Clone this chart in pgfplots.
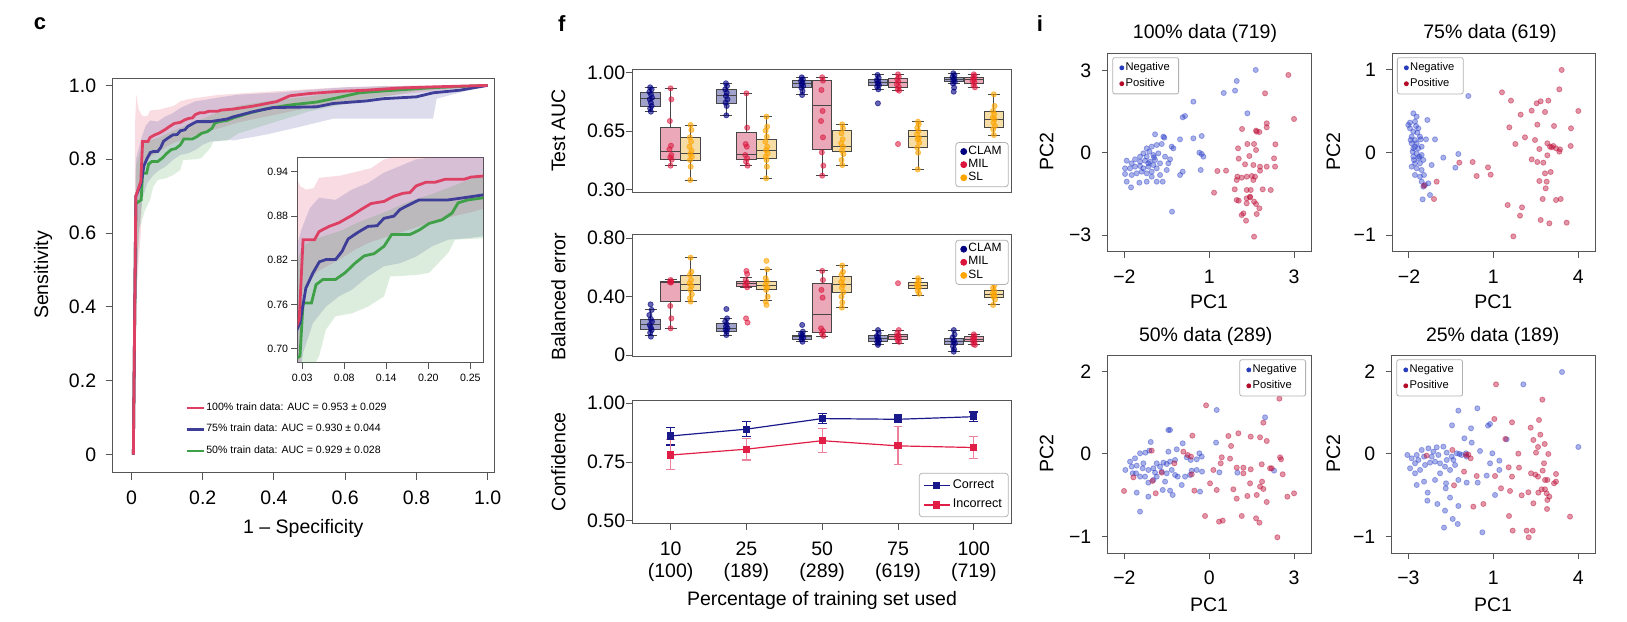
\documentclass[border=0pt]{standalone}
\usepackage{fontspec}
\setmainfont{Liberation Sans}
\usepackage{pgfplots}
\usepackage{pgfplotstable}
\pgfplotsset{compat=1.18}
\usepgfplotslibrary{statistics}

\definecolor{rocred}{RGB}{222,64,100}
\definecolor{rocblue}{RGB}{62,62,152}
\definecolor{rocgreen}{RGB}{64,160,72}
\definecolor{clamc}{RGB}{0,0,128}
\definecolor{milc}{RGB}{220,20,60}
\definecolor{slc}{RGB}{255,165,0}
\definecolor{clamfill}{RGB}{160,162,204}
\definecolor{milfill}{RGB}{234,168,184}
\definecolor{slfill}{RGB}{246,220,165}
\definecolor{boxedge}{RGB}{70,70,70}
\definecolor{negc}{RGB}{40,60,200}
\definecolor{posc}{RGB}{190,20,60}
\definecolor{negdark}{RGB}{40,60,190}
\definecolor{posdark}{RGB}{180,10,40}
\definecolor{framec}{RGB}{85,85,85}
\definecolor{corrc}{RGB}{25,25,140}
\definecolor{incc}{RGB}{225,30,70}
\definecolor{incbar}{RGB}{236,130,155}

\newcommand{\fmain}{\fontsize{9.75}{11}\selectfont}
\newcommand{\fsmall}{\fontsize{5.3}{6}\selectfont}
\newcommand{\flegf}{\fontsize{6}{7}\selectfont}
\newcommand{\flegs}{\fontsize{5.6}{6.5}\selectfont}

\pgfplotsset{
  rbase/.style={scale only axis, anchor=south west,
    axis line style={framec, line width=0.5pt},
    tick style={framec, line width=0.5pt},
    tick align=outside, xtick pos=left, ytick pos=left,
    major tick length=3.3pt,
    tick label style={font=\fmain, inner sep=0pt},
    /pgf/number format/assume math mode=true},
  cbx/.style={draw=boxedge, fill=clamfill, line width=0.5pt},
  mbx/.style={draw=boxedge, fill=milfill, line width=0.5pt},
  sbx/.style={draw=boxedge, fill=slfill, line width=0.5pt},
  cpt/.style={only marks, mark=*, mark size=1.3pt, clamc, opacity=0.6},
  mpt/.style={only marks, mark=*, mark size=1.3pt, milc, opacity=0.55},
  spt/.style={only marks, mark=*, mark size=1.3pt, slc, opacity=0.6},
  npt/.style={only marks, mark=*, mark size=1.3pt, negc, opacity=0.4},
  ppt/.style={only marks, mark=*, mark size=1.3pt, posc, opacity=0.45},
  flegend/.style={legend style={draw=gray!60, rounded corners=1.5pt, fill=white, font=\flegf,
      inner xsep=2.5pt, inner ysep=1.2pt, row sep=0pt, nodes={inner sep=0.45pt, inner xsep=0.8pt}}, legend cell align=left},
  slegend/.style={legend style={draw=gray!60, rounded corners=1pt, fill=white, font=\flegs,
      inner xsep=3.5pt, inner ysep=1.4pt, row sep=0.6pt, nodes={inner sep=0.9pt}}, legend cell align=left},
}

\newcommand{\bx}[7]{\addplot[#1, forget plot, boxplot prepared={draw position=#2, lower whisker=#3, lower quartile=#4, median=#5, upper quartile=#6, upper whisker=#7}] coordinates {};}

% ---------------- ROC data ----------------
\pgfplotstableread{
x y
0.005 0
0.012 0.70
0.026 0.74
0.031 0.848
0.046 0.848
0.052 0.859
0.065 0.866
0.078 0.871
0.095 0.881
0.107 0.889
0.120 0.897
0.137 0.900
0.150 0.907
0.162 0.911
0.171 0.912
0.179 0.921
0.192 0.926
0.204 0.926
0.217 0.930
0.242 0.930
0.251 0.933
0.286 0.936
0.342 0.944
0.379 0.951
0.407 0.956
0.445 0.972
0.500 0.978
0.585 0.984
0.660 0.987
0.754 0.993
0.847 0.996
1.000 1.000
}\redmean
\pgfplotstableread{
x y
0.005 0
0.012 0.70
0.027 0.735
0.0346 0.782
0.044 0.803
0.0524 0.818
0.061 0.821
0.0735 0.821
0.082 0.832
0.090 0.849
0.103 0.858
0.116 0.866
0.128 0.867
0.137 0.877
0.150 0.880
0.158 0.889
0.171 0.896
0.183 0.902
0.221 0.902
0.242 0.905
0.268 0.909
0.286 0.915
0.342 0.929
0.398 0.940
0.520 0.942
0.566 0.951
0.660 0.958
0.707 0.964
0.800 0.969
0.847 0.980
0.922 0.987
1.000 1.000
}\bluemean
\pgfplotstableread{
x y
0.005 0
0.012 0.68
0.027 0.69
0.031 0.762
0.042 0.762
0.048 0.787
0.057 0.794
0.0735 0.794
0.086 0.803
0.099 0.816
0.111 0.826
0.124 0.829
0.137 0.839
0.147 0.855
0.171 0.855
0.183 0.861
0.196 0.870
0.213 0.875
0.226 0.884
0.234 0.898
0.247 0.902
0.268 0.905
0.286 0.912
0.330 0.925
0.379 0.937
0.445 0.947
0.520 0.955
0.566 0.964
0.640 0.980
0.707 0.985
0.847 0.994
1.000 1.000
}\greenmean
\pgfplotstableread{
x y
0.005 0
0.010 0.90
0.013 0.975
0.020 0.935
0.028 0.920
0.035 0.916
0.045 0.918
0.052 0.932
0.080 0.935
0.100 0.940
0.120 0.945
0.137 0.957
0.160 0.963
0.240 0.974
0.380 0.983
0.570 0.994
0.750 0.999
1.000 1.000
0.900 0.990
0.800 0.980
0.700 0.970
0.600 0.955
0.500 0.940
0.400 0.920
0.300 0.900
0.250 0.885
0.200 0.873
0.180 0.865
0.150 0.855
0.120 0.845
0.100 0.835
0.080 0.822
0.050 0.805
0.031 0.780
0.026 0.600
0.015 0.450
0.010 0.200
0.005 0
}\redband
\pgfplotstableread{
x y
0.005 0
0.012 0.80
0.029 0.862
0.040 0.891
0.052 0.905
0.0735 0.902
0.095 0.916
0.116 0.925
0.137 0.939
0.158 0.948
0.179 0.957
0.200 0.960
0.250 0.968
0.300 0.975
0.400 0.980
0.500 0.988
0.600 0.995
0.700 0.998
1.000 1.000
0.940 0.985
0.857 0.964
0.847 0.910
0.660 0.910
0.566 0.910
0.473 0.888
0.379 0.867
0.286 0.851
0.268 0.853
0.247 0.850
0.221 0.848
0.200 0.839
0.179 0.825
0.158 0.816
0.137 0.812
0.116 0.798
0.095 0.780
0.078 0.771
0.061 0.757
0.044 0.735
0.031 0.694
0.020 0.600
0.012 0.400
0.005 0
}\blueband
\pgfplotstableread{
x y
0.005 0
0.012 0.78
0.030 0.840
0.050 0.850
0.080 0.860
0.100 0.870
0.137 0.885
0.170 0.900
0.200 0.910
0.250 0.930
0.300 0.945
0.400 0.960
0.500 0.970
0.600 0.985
0.700 0.995
1.000 1.000
0.800 0.985
0.600 0.950
0.500 0.930
0.400 0.900
0.300 0.870
0.268 0.850
0.230 0.848
0.221 0.830
0.196 0.803
0.179 0.800
0.145 0.798
0.137 0.771
0.116 0.757
0.095 0.748
0.0735 0.744
0.061 0.726
0.052 0.690
0.037 0.660
0.023 0.615
0.015 0.500
0.008 0.200
0.005 0
}\greenband

\begin{document}
\begin{tikzpicture}[x=0.5pt,y=0.5pt]
\path[use as bounding box] (0,0) rectangle (1627,621);

% ================= panel c =================
\begin{axis}[rbase, at={(56.35pt,74.1pt)}, width=191pt, height=197.2pt,
  xmin=-0.053, xmax=1.02, ymin=-0.049, ymax=1.019,
  xtick={0,0.2,0.4,0.6,0.8,1}, xticklabels={0,0.2,0.4,0.6,0.8,1.0},
  ytick={0,0.2,0.4,0.6,0.8,1}, yticklabels={0,0.2,0.4,0.6,0.8,1.0},
  major tick length=3.5pt,
  xticklabel style={yshift=-5.5pt}, yticklabel style={xshift=-4.6pt},
  legend style={at={(0.189,0.182)}, anchor=north west, draw=none, fill=none, font=\fsmall,
    row sep=4.2pt, inner sep=0pt, nodes={inner sep=0.6pt}},
  legend cell align=left,
  legend image code/.code={\draw[#1] (0pt,0pt) -- (8.5pt,0pt);},
]
\addplot[fill=rocred, fill opacity=0.18, draw=none, forget plot] table {\redband};
\addplot[fill=rocblue, fill opacity=0.18, draw=none, forget plot] table {\blueband};
\addplot[fill=rocgreen, fill opacity=0.18, draw=none, forget plot] table {\greenband};
\addplot[rocgreen, line width=1.4pt, forget plot] table {\greenmean};
\addplot[rocblue, line width=1.4pt, forget plot] table {\bluemean};
\addplot[rocred, line width=1.4pt, forget plot] table {\redmean};
\addlegendimage{rocred, line width=1.4pt}
\addlegendentry{100\% train data: AUC = 0.953 ± 0.029}
\addlegendimage{rocblue, line width=1.4pt}
\addlegendentry{75\% train data: AUC = 0.930 ± 0.044}
\addlegendimage{rocgreen, line width=1.4pt}
\addlegendentry{50\% train data: AUC = 0.929 ± 0.028}
\end{axis}

\begin{axis}[rbase, at={(148.85pt,129.15pt)}, width=92.8pt, height=102.75pt,
  xmin=0.024, xmax=0.267, ymin=0.681, ymax=0.96,
  xtick={0.03,0.085,0.14,0.195,0.25}, xticklabels={0.03,0.08,0.14,0.20,0.25},
  ytick={0.70,0.76,0.82,0.88,0.94}, yticklabels={0.70,0.76,0.82,0.88,0.94},
  tick label style={font=\fsmall},
  xticklabel style={yshift=-2.1pt}, yticklabel style={xshift=-1.3pt},
  axis background/.style={fill=white},
]
\addplot[fill=rocred, fill opacity=0.18, draw=none] table {\redband};
\addplot[fill=rocblue, fill opacity=0.18, draw=none] table {\blueband};
\addplot[fill=rocgreen, fill opacity=0.18, draw=none] table {\greenband};
\addplot[rocgreen, line width=1.4pt] table {\greenmean};
\addplot[rocblue, line width=1.4pt] table {\bluemean};
\addplot[rocred, line width=1.4pt] table {\redmean};
\end{axis}

% ================= panel f: Test AUC =================
\begin{axis}[rbase, flegend, at={(316.35pt,214.15pt)}, width=189.5pt, height=61.35pt,
  xmin=-0.5, xmax=4.5, ymin=0.28, ymax=1.016, xtick=\empty,
  ytick={0.30,0.65,1.00}, yticklabels={0.30,0.65,1.00},
  yticklabel style={xshift=-0.3pt},
  boxplot/draw direction=y,
  boxplot/box extend=0.255, boxplot/whisker extend=0.16,
  legend style={at={(0.992,0.045)}, anchor=south east},
]
\bx{cbx}{-0.264}{0.766}{0.796}{0.842}{0.882}{0.912}
\bx{mbx}{0}{0.442}{0.478}{0.530}{0.674}{0.906}
\bx{sbx}{0.264}{0.356}{0.474}{0.516}{0.614}{0.686}
\bx{cbx}{0.736}{0.744}{0.816}{0.860}{0.900}{0.936}
\bx{mbx}{1}{0.442}{0.480}{0.510}{0.642}{0.876}
\bx{sbx}{1.264}{0.366}{0.488}{0.532}{0.600}{0.736}
\bx{cbx}{1.736}{0.866}{0.912}{0.932}{0.950}{0.972}
\bx{mbx}{2}{0.382}{0.540}{0.804}{0.950}{0.972}
\bx{sbx}{2.264}{0.446}{0.526}{0.560}{0.654}{0.690}
\bx{cbx}{2.736}{0.900}{0.920}{0.942}{0.956}{0.986}
\bx{mbx}{3}{0.892}{0.910}{0.940}{0.964}{0.990}
\bx{sbx}{3.264}{0.420}{0.552}{0.620}{0.656}{0.706}
\bx{cbx}{3.736}{0.936}{0.946}{0.960}{0.972}{0.996}
\bx{mbx}{4}{0.912}{0.936}{0.956}{0.968}{0.990}
\bx{sbx}{4.264}{0.626}{0.670}{0.720}{0.766}{0.870}
\addplot[cpt, forget plot] coordinates {
(-0.27,0.912) (-0.25,0.90) (-0.28,0.885) (-0.26,0.87) (-0.245,0.85) (-0.275,0.84) (-0.26,0.82) (-0.25,0.80) (-0.27,0.785) (-0.26,0.766)
(0.73,0.936) (0.745,0.92) (0.72,0.90) (0.74,0.88) (0.73,0.86) (0.75,0.84) (0.725,0.82) (0.74,0.80) (0.735,0.744)
(1.73,0.972) (1.745,0.96) (1.72,0.95) (1.74,0.94) (1.73,0.93) (1.75,0.92) (1.725,0.91) (1.74,0.89) (1.735,0.866)
(2.73,0.986) (2.745,0.97) (2.72,0.955) (2.74,0.945) (2.73,0.935) (2.75,0.925) (2.725,0.915) (2.74,0.90) (2.735,0.816)
(3.73,0.996) (3.745,0.985) (3.72,0.975) (3.74,0.965) (3.73,0.955) (3.75,0.945) (3.725,0.936) (3.74,0.91) (3.735,0.886)};
\addplot[mpt, forget plot] coordinates {
(0,0.906) (0.01,0.84) (-0.01,0.71) (0.005,0.562) (-0.015,0.54) (0.01,0.506) (-0.005,0.492) (0.015,0.478) (0,0.442)
(1,0.876) (1.01,0.67) (0.99,0.572) (1.005,0.556) (0.985,0.506) (1.01,0.486) (0.995,0.466) (1.015,0.442)
(2,0.972) (2.01,0.952) (1.99,0.896) (2.005,0.77) (1.985,0.71) (2.01,0.612) (1.995,0.522) (2.015,0.442) (2,0.382)
(3,0.99) (3.01,0.975) (2.99,0.96) (3.005,0.945) (2.985,0.93) (3.01,0.915) (2.995,0.90) (3.015,0.892) (3,0.572)
(4,0.99) (4.01,0.98) (3.99,0.97) (4.005,0.96) (3.985,0.95) (4.01,0.94) (3.995,0.925) (4.015,0.912)};
\addplot[spt, forget plot] coordinates {
(0.264,0.686) (0.274,0.656) (0.254,0.612) (0.27,0.586) (0.25,0.556) (0.275,0.532) (0.26,0.512) (0.28,0.496) (0.255,0.476) (0.265,0.436) (0.26,0.356)
(1.264,0.736) (1.274,0.676) (1.254,0.652) (1.27,0.616) (1.25,0.586) (1.275,0.556) (1.26,0.536) (1.28,0.516) (1.255,0.496) (1.265,0.476) (1.27,0.436) (1.26,0.366)
(2.264,0.69) (2.274,0.666) (2.254,0.636) (2.27,0.60) (2.25,0.576) (2.275,0.556) (2.26,0.532) (2.28,0.512) (2.255,0.476) (2.265,0.446)
(3.264,0.706) (3.274,0.69) (3.254,0.67) (3.27,0.65) (3.25,0.63) (3.275,0.61) (3.26,0.60) (3.28,0.58) (3.255,0.55) (3.265,0.52) (3.26,0.42)
(4.264,0.87) (4.274,0.80) (4.254,0.77) (4.27,0.75) (4.25,0.73) (4.275,0.72) (4.26,0.70) (4.28,0.68) (4.255,0.66) (4.265,0.626)};
\addlegendimage{only marks, mark=*, mark size=1.5pt, clamc}\addlegendentry{CLAM}
\addlegendimage{only marks, mark=*, mark size=1.5pt, milc}\addlegendentry{MIL}
\addlegendimage{only marks, mark=*, mark size=1.5pt, slc}\addlegendentry{SL}
\end{axis}

% ================= panel f: Balanced error =================
\begin{axis}[rbase, flegend, at={(316.35pt,132.15pt)}, width=189.5pt, height=61.2pt,
  xmin=-0.5, xmax=4.5, ymin=-0.0114, ymax=0.827, xtick=\empty,
  ytick={0,0.40,0.80}, yticklabels={0,0.40,0.80},
  yticklabel style={xshift=-0.3pt},
  boxplot/draw direction=y,
  boxplot/box extend=0.255, boxplot/whisker extend=0.16,
  legend style={at={(0.992,0.955)}, anchor=north east},
]
\bx{cbx}{-0.264}{0.137}{0.176}{0.206}{0.240}{0.309}
\bx{mbx}{0}{0.183}{0.366}{0.500}{0.505}{0.514}
\bx{sbx}{0.264}{0.366}{0.439}{0.485}{0.544}{0.667}
\bx{cbx}{0.736}{0.137}{0.160}{0.183}{0.213}{0.251}
\bx{mbx}{1}{0.464}{0.470}{0.491}{0.507}{0.530}
\bx{sbx}{1.264}{0.373}{0.450}{0.478}{0.507}{0.587}
\bx{cbx}{1.736}{0.091}{0.107}{0.126}{0.137}{0.160}
\bx{mbx}{2}{0.126}{0.153}{0.279}{0.491}{0.576}
\bx{sbx}{2.264}{0.325}{0.430}{0.485}{0.537}{0.613}
\bx{cbx}{2.736}{0.069}{0.091}{0.112}{0.132}{0.171}
\bx{mbx}{3}{0.080}{0.108}{0.125}{0.142}{0.171}
\bx{sbx}{3.264}{0.410}{0.457}{0.477}{0.496}{0.526}
\bx{cbx}{3.736}{0.023}{0.075}{0.091}{0.114}{0.171}
\bx{mbx}{4}{0.069}{0.091}{0.109}{0.125}{0.142}
\bx{sbx}{4.264}{0.343}{0.396}{0.418}{0.441}{0.503}
\addplot[cpt, forget plot] coordinates {
(-0.264,0.347) (-0.25,0.309) (-0.28,0.274) (-0.26,0.247) (-0.245,0.229) (-0.275,0.206) (-0.26,0.187) (-0.25,0.171) (-0.27,0.153) (-0.26,0.126)
(0.736,0.315) (0.745,0.251) (0.72,0.229) (0.74,0.213) (0.73,0.195) (0.75,0.183) (0.725,0.171) (0.74,0.16) (0.735,0.137)
(1.736,0.206) (1.745,0.16) (1.72,0.145) (1.74,0.137) (1.73,0.126) (1.75,0.118) (1.725,0.107) (1.74,0.091)
(2.736,0.171) (2.745,0.15) (2.72,0.13) (2.74,0.12) (2.73,0.11) (2.75,0.10) (2.725,0.09) (2.74,0.08) (2.735,0.069)
(3.736,0.171) (3.745,0.14) (3.72,0.12) (3.74,0.10) (3.73,0.09) (3.75,0.08) (3.725,0.06) (3.74,0.04) (3.735,0.023)};
\addplot[mpt, forget plot] coordinates {
(0,0.514) (0.01,0.505) (-0.01,0.50) (0.005,0.496) (-0.005,0.336) (0.01,0.251) (0,0.183)
(1,0.576) (1.01,0.555) (0.99,0.514) (1.005,0.496) (0.985,0.48) (1.01,0.464) (0.995,0.251) (1.015,0.222)
(2,0.576) (2.01,0.514) (1.99,0.446) (2.005,0.393) (1.985,0.183) (2.01,0.165) (1.995,0.149) (2.015,0.131)
(3,0.492) (3.01,0.171) (2.99,0.15) (3.005,0.135) (2.985,0.125) (3.01,0.115) (2.995,0.10) (3.015,0.09)
(4,0.142) (4.01,0.13) (3.99,0.12) (4.005,0.11) (3.985,0.10) (4.01,0.09) (3.995,0.075) (4.015,0.069)};
\addplot[spt, forget plot] coordinates {
(0.264,0.667) (0.274,0.571) (0.254,0.549) (0.27,0.514) (0.25,0.491) (0.275,0.473) (0.26,0.446) (0.28,0.416) (0.255,0.389) (0.265,0.366)
(1.264,0.645) (1.274,0.587) (1.254,0.526) (1.27,0.503) (1.25,0.48) (1.275,0.464) (1.26,0.446) (1.28,0.40) (1.255,0.366) (1.265,0.343)
(2.264,0.613) (2.274,0.57) (2.254,0.55) (2.27,0.52) (2.25,0.50) (2.275,0.48) (2.26,0.46) (2.28,0.43) (2.255,0.40) (2.265,0.36) (2.26,0.325)
(3.264,0.526) (3.274,0.51) (3.254,0.49) (3.27,0.48) (3.25,0.47) (3.275,0.46) (3.26,0.44) (3.28,0.42)
(4.264,0.503) (4.274,0.48) (4.254,0.46) (4.27,0.44) (4.25,0.42) (4.275,0.41) (4.26,0.40) (4.28,0.38) (4.255,0.343)};
\addlegendimage{only marks, mark=*, mark size=1.5pt, clamc}\addlegendentry{CLAM}
\addlegendimage{only marks, mark=*, mark size=1.5pt, milc}\addlegendentry{MIL}
\addlegendimage{only marks, mark=*, mark size=1.5pt, slc}\addlegendentry{SL}
\end{axis}

% ================= panel f: Confidence =================
\begin{axis}[rbase, at={(316.35pt,48.85pt)}, width=189.5pt, height=61.3pt,
  xmin=-0.5, xmax=4.5, ymin=0.49, ymax=1.011,
  xtick={0,1,2,3,4},
  xticklabels={{10\\(100)},{25\\(189)},{50\\(289)},{75\\(619)},{100\\(719)}},
  xticklabel style={align=center, font=\fontsize{9.75}{11.3}\selectfont, yshift=-5.7pt},
  ytick={0.5,0.75,1}, yticklabels={0.50,0.75,1.00},
  yticklabel style={xshift=-0.3pt},
  legend cell align=left,
  legend style={at={(0.992,0.05)}, anchor=south east, draw=gray!60, rounded corners=1.5pt,
    fill=white, font=\fontsize{6.3}{7}\selectfont, inner xsep=2pt, inner ysep=1.8pt, row sep=1.6pt,
    nodes={inner sep=1.2pt}},
  legend image code/.code={\draw[#1, mark repeat=2, mark phase=2] plot coordinates {(0pt,0pt) (6.5pt,0pt) (13pt,0pt)};},
]
\addplot[corrc, line width=0.6pt, mark=square*, mark size=1.5pt,
  error bars/.cd, y dir=both, y explicit,
  error bar style={corrc, line width=0.6pt},
  error mark options={rotate=90, mark size=2.2pt, corrc, line width=0.6pt}]
  coordinates {(0,0.861) += (0,0.037) -= (0,0.038) (1,0.890) += (0,0.031) -= (0,0.032)
  (2,0.935) += (0,0.023) -= (0,0.020) (3,0.932) += (0,0.018) -= (0,0.014) (4,0.943) += (0,0.020) -= (0,0.019)};
\addlegendentry{Correct}
\addplot[incc, line width=0.6pt, mark=square*, mark size=1.5pt,
  error bars/.cd, y dir=both, y explicit,
  error bar style={incbar, line width=0.6pt},
  error mark options={rotate=90, mark size=2.2pt, incbar, line width=0.6pt}]
  coordinates {(0,0.780) += (0,0.067) -= (0,0.060) (1,0.805) += (0,0.046) -= (0,0.046)
  (2,0.841) += (0,0.053) -= (0,0.049) (3,0.819) += (0,0.082) -= (0,0.080) (4,0.812) += (0,0.046) -= (0,0.046)};
\addlegendentry{Incorrect}
\end{axis}

% ================= panel i: 100% =================
\begin{axis}[rbase, slegend, at={(553.85pt,184.65pt)}, width=102pt, height=99.2pt,
  xmin=-0.5, xmax=5.62, ymin=-2.97, ymax=2.98,
  xtick={0,2.55,5.09}, xticklabels={−2,1,3},
  ytick={-2.47,0,2.46}, yticklabels={−3,0,3},
  major tick length=3pt, xticklabel style={yshift=-5.8pt}, yticklabel style={xshift=-5pt},
  legend style={at={(0.023,0.98)}, anchor=north west},
]
\addplot[npt, forget plot] coordinates {
(3.94,2.48) (3.37,2.15) (3.32,1.86) (2.98,1.79) (2.07,1.53) (3.69,1.18) (1.75,1.06) (1.82,1.10)
(0.92,0.55) (1.17,0.48) (1.20,0.45) (1.67,0.40) (2.07,0.43) (2.32,0.50) (1.42,0.18) (2.25,0)
(2.32,-0.04) (2.37,-0.12) (1.47,0.13) (2.29,-0.52) (1.75,-0.57) (1.67,-0.67) (1.43,-1.77)
(0.67,0.13) (0.82,0.18) (0.97,0.23) (1.12,0.26) (0.75,0.03) (0.57,-0.02) (0.47,-0.12) (0.67,-0.12)
(0.87,-0.07) (1.02,-0.02) (1.22,-0.12) (1.37,-0.20) (1.32,-0.32) (1.07,-0.32) (0.92,-0.22) (0.77,-0.27)
(0.62,-0.24) (0.47,-0.27) (0.32,-0.20) (0.22,-0.32) (0.07,-0.24) (0.02,-0.47) (0.17,-0.47) (0.32,-0.42)
(0.47,-0.40) (0.72,-0.42) (0.87,-0.37) (0.97,-0.47) (0.82,-0.57) (0.67,-0.62) (0.52,-0.57) (0.37,-0.62)
(0.22,-0.67) (0.02,-0.64) (0.07,-0.87) (0.20,-1.04) (0.45,-0.90) (0.67,-0.87) (0.97,-0.87) (1.15,-0.87)
(0.82,-0.72) (1.07,-0.67) (1.27,-0.52) (0.57,-0.47) (0.72,-0.32) (0.89,-0.14)};
\addplot[ppt, forget plot] coordinates {
(4.92,2.33) (5.09,1.01) (4.22,1.78) (4.27,0.88) (4.27,0.76) (3.97,0.63) (3.53,0.71) (3.95,0.66)
(4.05,0.62) (3.41,0.13) (3.69,0.26) (3.89,0.26) (4.53,0.25) (3.95,0.08) (3.43,-0.18) (3.75,-0.10)
(4.49,-0.17) (3.62,-0.35) (3.87,-0.37) (4.07,-0.42) (4.27,-0.42) (4.07,-0.54) (4.52,-0.42) (2.79,-0.55)
(3.05,-0.54) (3.39,-0.72) (3.52,-0.75) (3.67,-0.72) (3.82,-0.70) (3.92,-0.72) (3.37,-0.82) (3.87,-0.82)
(3.31,-1.10) (3.67,-1.12) (3.79,-1.12) (4.15,-1.10) (4.39,-1.12) (2.69,-1.20) (3.37,-1.42) (3.67,-1.37)
(3.77,-1.34) (3.89,-1.47) (3.67,-1.52) (3.95,-1.54) (3.43,-1.44) (3.57,-1.82) (3.52,-1.87) (3.97,-1.84)
(4.05,-1.67) (3.65,-2.04) (3.89,-2.52) (3.77,-1.32)};
\addlegendimage{only marks, mark=*, mark size=1pt, negdark}\addlegendentry{Negative}
\addlegendimage{only marks, mark=*, mark size=1pt, posdark}\addlegendentry{Positive}
\end{axis}

% ================= panel i: 75% =================
\begin{axis}[rbase, slegend, at={(696.15pt,184.65pt)}, width=101.35pt, height=99.2pt,
  xmin=-0.5, xmax=5.58, ymin=-2.97, ymax=2.98,
  xtick={0,2.53,5.08}, xticklabels={−2,1,4},
  ytick={-2.47,0,2.48}, yticklabels={−1,0,1},
  major tick length=3pt, xticklabel style={yshift=-5.8pt}, yticklabel style={xshift=-5pt},
  legend style={at={(0.023,0.98)}, anchor=north west},
]
\addplot[npt, forget plot] coordinates {
(-0.02,0.83) (0.03,0.90) (0.13,1.18) (0.23,1.08) (0.18,0.93) (0.03,0.73) (0.13,0.63) (0.28,0.73)
(0.08,0.48) (0.18,0.38) (0.33,0.48) (0.23,0.28) (0.08,0.28) (0.13,0.13) (0.28,0.13) (0.38,0.18)
(0.23,-0.02) (0.13,-0.12) (0.28,-0.17) (0.38,-0.07) (0.18,-0.32) (0.33,-0.32) (0.43,-0.22) (0.23,-0.47)
(0.38,-0.52) (0.18,-0.67) (0.33,-0.72) (0.45,-0.67) (0.38,-0.87) (0.48,-0.97) (0.43,-1.02) (0.55,0.98)
(0.51,0.40) (0.78,0.40) (0.68,-0.37) (0.58,-0.92) (0.63,-1.27) (0.41,-1.40) (1.03,-0.15) (1.48,-0.04)
(1.39,-0.45) (1.78,1.70) (0.11,0.03) (0.25,0.60) (0.35,0.40) (0.21,0.80) (0.15,-0.22) (0.08,-0.42)
(0.31,-0.12) (0.18,0.18) (0.05,0.38)};
\addplot[ppt, forget plot] coordinates {
(2.79,1.81) (3.06,1.56) (3.35,1.14) (3.01,0.76) (3.19,0.26) (3.48,0.46) (3.68,1.26) (3.83,1.48)
(3.95,1.54) (4.08,1.22) (4.18,1.56) (4.51,1.90) (4.58,2.48) (5.08,1.25) (4.86,0.73) (4.35,0.80)
(3.78,0.38) (3.85,0.84) (3.91,0.11) (4.15,0.28) (4.23,0.18) (4.33,0.20) (4.41,0.13) (4.53,0.10)
(4.85,0.20) (3.68,-0.20) (3.85,-0.28) (4.03,-0.30) (4.15,-0.08) (4.28,0.16) (4.51,0.03) (4.08,-0.62)
(4.13,-0.87) (4.25,-0.58) (3.91,-0.85) (4.10,-1.07) (4.01,-1.39) (4.41,-1.42) (4.55,-1.39) (2.96,-1.57)
(3.39,-1.64) (3.33,-1.89) (3.95,-2.02) (4.21,-2.12) (4.73,-2.10) (3.13,-2.51) (1.51,-0.30) (1.91,-0.28)
(2.03,-0.70) (2.37,-0.44) (2.45,-0.66) (0.83,-0.87) (0.75,-1.39) (0.45,-0.99)};
\addlegendimage{only marks, mark=*, mark size=1pt, negdark}\addlegendentry{Negative}
\addlegendimage{only marks, mark=*, mark size=1pt, posdark}\addlegendentry{Positive}
\end{axis}

% ================= panel i: 50% =================
\begin{axis}[rbase, slegend, at={(553.85pt,33.85pt)}, width=102pt, height=98.65pt,
  xmin=-0.5, xmax=5.62, ymin=-2.98, ymax=2.94,
  xtick={0,2.55,5.09}, xticklabels={−2,0,3},
  ytick={-2.48,0,2.46}, yticklabels={−1,0,2},
  major tick length=3pt, xticklabel style={yshift=-5.8pt}, yticklabel style={xshift=-5pt},
  legend style={at={(0.972,0.983)}, anchor=north east},
]
\addplot[npt, forget plot] coordinates {
(0.79,0.36) (0.75,0.10) (0.63,0.04) (0.47,0.02) (0.32,-0.13) (0.17,-0.23) (0.03,-0.48) (0.22,-0.38)
(0.37,-0.35) (0.57,-0.28) (0.35,-0.58) (0.47,-0.68) (0.25,-0.58) (0.55,-0.43) (0.72,-0.48) (0.87,-0.43)
(0.97,-0.28) (1.07,-0.38) (1.17,-0.26) (1.27,-0.30) (1.37,-0.23) (1.52,-0.18) (1.32,0.07) (1.57,0.14)
(1.75,0.32) (1.87,-0.10) (1.99,-0.18) (2.17,-0.16) (2.25,0.02) (2.32,-0.08) (2.33,-0.53) (2.17,-0.48)
(2.02,-0.50) (1.97,-0.63) (1.82,-0.68) (1.72,-0.93) (1.60,-0.68) (1.52,-0.63) (1.42,-0.48) (1.27,-0.58)
(1.12,-0.53) (0.97,-0.68) (0.87,-0.78) (0.72,-0.86) (0.62,-0.68) (0.72,-1.28) (0.37,-1.16) (0.47,-1.73)
(1.15,-1.08) (1.37,-1.10) (1.45,-1.23) (1.22,-0.83) (1.32,0.72) (1.37,0.72) (2.75,0.34) (2.77,1.32)
(2.85,-0.55) (3.39,-0.56) (4.22,1.10) (4.49,-0.50) (2.27,-1.13) (0.92,-0.56)};
\addplot[ppt, forget plot] coordinates {
(2.45,1.46) (2.04,0.55) (1.77,0.07) (1.90,-0.03) (2.00,-0.08) (2.02,-0.61) (2.10,-1.10) (0.82,0.10)
(0.27,-0.70) (-0.01,-1.11) (0.94,-1.18) (1.12,-0.56) (0.84,-0.81) (1.50,-0.28) (2.57,-0.88) (2.77,-1.08)
(2.42,-1.86) (2.84,-2.03) (2.95,-2.00) (3.12,0.54) (3.42,0.62) (3.79,0.52) (4.07,0.50) (4.27,0.39)
(3.20,0.24) (2.92,-0.10) (2.89,-0.28) (3.17,-0.14) (3.37,-0.41) (3.57,-0.41) (3.57,-0.58) (3.79,-0.46)
(4.12,-0.31) (4.37,-0.43) (4.42,-0.43) (4.67,-0.10) (4.70,-0.16) (4.75,-0.61) (4.13,-0.83) (4.17,-1.05)
(4.07,-0.98) (3.77,-0.88) (3.27,-1.06) (3.37,-1.34) (3.69,-1.26) (3.97,-1.23) (4.27,-1.44) (4.89,-1.28)
(5.09,-1.18) (3.52,-1.86) (3.95,-1.93) (4.05,-2.06) (4.59,-2.50) (4.65,1.66) (4.17,0.94) (2.67,-0.48)};
\addlegendimage{only marks, mark=*, mark size=1pt, negdark}\addlegendentry{Negative}
\addlegendimage{only marks, mark=*, mark size=1pt, posdark}\addlegendentry{Positive}
\end{axis}

% ================= panel i: 25% =================
\begin{axis}[rbase, slegend, at={(695.85pt,33.85pt)}, width=101.65pt, height=98.65pt,
  xmin=-0.5, xmax=5.6, ymin=-2.98, ymax=2.94,
  xtick={0,2.55,5.10}, xticklabels={−3,1,4},
  ytick={-2.48,0,2.46}, yticklabels={−1,0,2},
  major tick length=3pt, xticklabel style={yshift=-5.8pt}, yticklabel style={xshift=-5pt},
  legend style={at={(0.023,0.983)}, anchor=north west},
]
\addplot[npt, forget plot] coordinates {
(-0.03,-0.03) (0.10,-0.13) (0.25,-0.03) (0.40,0.12) (0.60,0.17) (0.75,0.07) (0.85,0.20) (1.05,0.22)
(1.15,0.04) (1.30,-0.08) (1.45,0.02) (1.60,-0.03) (1.75,-0.08) (0.05,-0.43) (0.20,-0.58) (0.35,-0.48)
(0.50,-0.33) (0.65,-0.26) (0.80,-0.23) (0.95,-0.28) (1.10,-0.38) (1.25,-0.48) (1.35,-0.18) (0.20,-0.28)
(0.30,-0.18) (0.47,-0.08) (0.70,-0.08) (0.90,-0.03) (1.15,-0.18) (1.40,-0.33) (0.25,-0.93) (0.47,-0.83)
(0.58,-1.16) (0.57,-1.40) (0.87,-1.50) (1.10,-1.70) (1.12,-1.03) (1.25,-1.31) (1.33,-1.95) (1.50,-1.56)
(1.48,-2.10) (1.07,-2.21) (0.80,-0.78) (0.95,-0.58) (1.13,-0.88) (1.50,-0.78) (1.75,-0.86) (2.08,-0.86)
(2.35,-0.65) (2.45,-0.28) (2.73,-0.20) (2.73,-0.48) (2.60,-1.23) (2.52,0.02) (2.15,0.09) (1.90,0.34)
(1.68,0.47) (1.88,0.77) (1.50,1.30) (1.31,0.86) (2.07,1.37) (2.39,0.85) (2.45,0.90) (2.95,0.44)
(3.45,2.09) (4.61,2.46) (5.10,0.21) (2.22,-2.35) (1.73,0.02) (1.53,0.00)};
\addplot[ppt, forget plot] coordinates {
(2.63,2.09) (4.02,1.63) (2.58,1.05) (3.92,1.02) (3.11,0.95) (3.67,0.79) (3.96,0.58) (2.91,0.45)
(3.75,0.42) (3.89,0.21) (4.09,0.30) (3.83,0.04) (4.20,0.00) (3.30,0.01) (4.07,-0.28) (3.01,-0.40)
(3.32,-0.41) (1.73,-0.03) (1.80,-0.02) (1.87,-0.13) (1.67,-0.53) (2.05,-0.66) (2.60,-0.66) (3.11,-0.68)
(3.68,-0.58) (3.81,-0.62) (3.89,-0.68) (4.03,-0.50) (4.10,-0.78) (4.17,-0.78) (4.43,-0.60) (4.43,-0.83)
(4.37,-0.88) (4.00,-1.06) (4.10,-1.06) (4.15,-1.18) (4.23,-1.28) (4.17,-1.38) (3.90,-1.16) (3.40,-1.24)
(3.60,-1.15) (3.75,-1.48) (3.05,-1.11) (2.78,-1.03) (2.25,-1.50) (1.95,-1.58) (3.02,-1.86) (4.16,-1.65)
(4.85,-1.88) (3.13,-2.30) (3.55,-2.30) (3.73,-2.30) (3.61,-2.50) (1.37,-0.94) (0.55,-0.05) (1.32,0.12)};
\addlegendimage{only marks, mark=*, mark size=1pt, negdark}\addlegendentry{Negative}
\addlegendimage{only marks, mark=*, mark size=1pt, posdark}\addlegendentry{Positive}
\end{axis}

% ================= texts =================
\node[font=\bfseries\fontsize{11}{12}\selectfont] at (40,597) {c};
\node[font=\bfseries\fontsize{11}{12}\selectfont] at (561.7,597) {f};
\node[font=\bfseries\fontsize{11}{12}\selectfont] at (1040,597) {i};
\node[font=\fmain, rotate=90] at (43,346) {Sensitivity};
\node[font=\fmain] at (303.3,92.3) {1 – Specificity};
\node[font=\fmain, rotate=90] at (558.3,490.3) {Test AUC};
\node[font=\fmain, rotate=90] at (558.3,324.3) {Balanced error};
\node[font=\fmain, rotate=90] at (558.3,159.3) {Confidence};
\node[font=\fmain] at (822,21) {Percentage of training set used};
\node[font=\fmain] at (1205,587.7) {100\% data (719)};
\node[font=\fmain] at (1490,587.7) {75\% data (619)};
\node[font=\fmain] at (1205.7,284.3) {50\% data (289)};
\node[font=\fmain] at (1492.7,284.3) {25\% data (189)};
\node[font=\fmain] at (1209,319.3) {PC1};
\node[font=\fmain] at (1493.3,319.3) {PC1};
\node[font=\fmain] at (1209,16) {PC1};
\node[font=\fmain] at (1493,16) {PC1};
\node[font=\fmain, rotate=90] at (1046.7,469.3) {PC2};
\node[font=\fmain, rotate=90] at (1333.3,469) {PC2};
\node[font=\fmain, rotate=90] at (1046.7,167) {PC2};
\node[font=\fmain, rotate=90] at (1333.3,167) {PC2};
\end{tikzpicture}
\end{document}
